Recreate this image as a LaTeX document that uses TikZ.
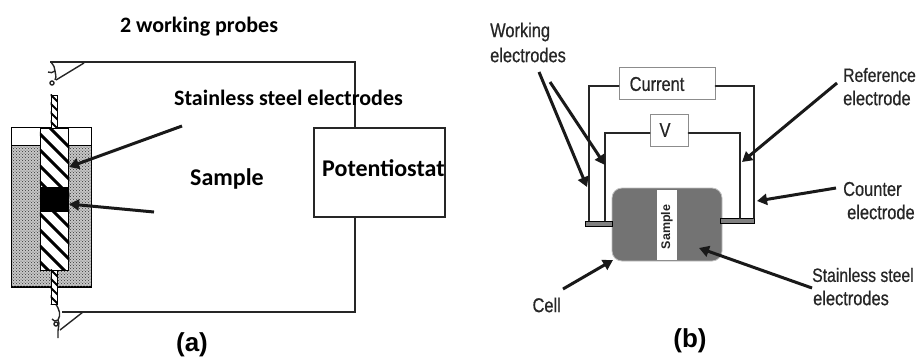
\documentclass[tikz,border=0pt]{standalone}
\usepackage{fontspec}
\setmainfont{Liberation Sans}
\newfontfamily\carl{Carlito}
\newfontfamily\narrow[FakeStretch=0.82,FakeBold=0.6]{Liberation Sans}
\usetikzlibrary{arrows.meta,patterns}
\tikzset{
  wire/.style={line width=2pt,draw=black!85,line cap=round},
  thinw/.style={line width=1.4pt,draw=black!85},
  ptr/.style={line width=3pt,draw=black!90,-{Triangle[length=10pt,width=11pt]}},
  lab/.style={font=\narrow\fontsize{20}{22}\selectfont,text=black!85,inner sep=0pt,align=left},
  labfit/.style={font=\narrow\fontsize{19.2}{22}\selectfont,text=black!85,inner sep=0pt,align=left},
  cal/.style={font=\carl\bfseries\fontsize{22}{24}\selectfont,text=black,inner sep=0pt},
  cal2/.style={font=\carl\bfseries\fontsize{24}{27}\selectfont,text=black,inner sep=0pt},
  captext/.style={font=\bfseries\fontsize{26}{28}\selectfont,text=black,inner sep=0pt},
  gbox/.style={draw=black!45,line width=1pt,fill=white,inner sep=0pt},
  hatchline/.style={line width=3pt,draw=black}
}
\begin{document}
\begin{tikzpicture}[x=1pt,y=-1pt]
\useasboundingbox (0,0) rectangle (917,357);
% ---------- (a) ----------
\coordinate (tl) at (50,62); \coordinate (tr) at (355,62);
\coordinate (bl) at (62,312); \coordinate (br) at (355,312);
\node[draw=black!85,line width=1.4pt,fill=white,minimum width=131pt,minimum height=89pt,inner sep=0pt] (pot) at (379.5,172.5) {};
\draw[line width=1.7pt,black!85] (tl) -- (tr) -- (pot.north -| tr);
\draw[line width=1.7pt,black!85] (pot.south -| br) -- (br) -- (bl);
% switch top
\coordinate (st) at (84,63); \coordinate (sp) at (56,80);
\draw[thinw] (st) -- (sp);
\draw[thinw] (51,62) .. controls (54,66) and (55,68) .. (55,71) .. controls (53,73) and (50,73) .. (48,72);
\draw[thinw] (55,71) .. controls (55,74) and (57,76) .. (55,80);
\draw[thinw] (52,83) circle (2);
% switch bottom
\coordinate (sb) at (83,312); \coordinate (sq) at (60,330);
\draw[thinw] (sb) -- (sq);
\draw[thinw] (55,303) .. controls (60,310) and (61,315) .. (58,320) .. controls (56,322) and (53,321) .. (52,319);
\draw[thinw] (58,320) .. controls (60,324) and (58,328) .. (58,331) -- (58,338);
\draw[thinw] (56,324) circle (2);
% body
\node[draw=black,line width=1.2pt,fill=black!22,minimum width=80pt,minimum height=142pt,inner sep=0pt] (body) at (51.5,216) {};
\node[pattern=crosshatch dots,pattern color=black!80,minimum width=79pt,minimum height=141pt,inner sep=0pt] at (body) {};
\node[draw=black,line width=1pt,fill=white,minimum width=80pt,minimum height=18pt,inner sep=0pt] (lid) at (51.5,136) {};
% electrode
\node[draw=black,line width=1pt,fill=white,minimum width=28.5pt,minimum height=142pt,inner sep=0pt] (elec) at (54.5,199) {};
\begin{scope}
\clip (elec.south west) rectangle (elec.north east);
\foreach \i in {0,...,13} \draw[hatchline] (30,108+\i*16) -- (80,158+\i*16);
\end{scope}
\node[draw=black,line width=1pt,minimum width=28.5pt,minimum height=142pt,inner sep=0pt] at (elec) {};
% thin strips
\node[draw=black,line width=1pt,fill=white,minimum width=6pt,minimum height=33pt,inner sep=0pt] (s1) at (54,111.5) {};
\node[draw=black,line width=1pt,fill=white,minimum width=6pt,minimum height=34pt,inner sep=0pt] (s2) at (54,287) {};
\begin{scope}
\clip (s1.south west) rectangle (s1.north east);
\foreach \i in {0,...,4} \draw[line width=2pt] (48,92+\i*9) -- (60,104+\i*9);
\end{scope}
\begin{scope}
\clip (s2.south west) rectangle (s2.north east);
\foreach \i in {0,...,4} \draw[line width=2pt] (48,267+\i*9) -- (60,279+\i*9);
\end{scope}
% sample
\node[fill=black,minimum width=28.5pt,minimum height=25pt,inner sep=0pt] (samp) at (54.5,199.5) {};
\coordinate (a1) at (182,126); \coordinate (a1e) at (69,167);
\coordinate (a2) at (154,212); \coordinate (a2e) at (69,204);
\draw[ptr] (a1) -- (a1e);
\draw[ptr] (a2) -- (a2e);
\node[cal] (t1) at (199,27) {2 working probes};
\node[cal] (t2) at (288.5,98) {Stainless steel electrodes};
\node[cal2] (t3) at (227,179) {Sample};
\node[cal2,anchor=west] (t4) at (322,168) {Potentiostat};
\node[captext] (capa) at (192,345) {(a)};
% ---------- (b) ----------
\node[gbox,minimum width=96pt,minimum height=32pt] (cur) at (667,83) {};
\node[lab] at (657,84) {Current};
\node[gbox,minimum width=38pt,minimum height=32pt] (volt) at (669,130) {};
\node[lab] at (665,130) {V};
\node[draw=black!25,line width=.8pt,fill=black!55,rounded corners=10pt,minimum width=110pt,minimum height=73pt,inner sep=0pt] (cell) at (667,224.5) {};
\node[fill=white,minimum width=20pt,minimum height=70pt,inner sep=0pt] (sp2) at (667,224.5) {};
\node[font=\bfseries\fontsize{12.5}{14}\selectfont,rotate=90,inner sep=0pt,text=black!85] at (667,227) {Sample};
\node[draw=black,line width=1pt,fill=black!50,minimum width=27pt,minimum height=5pt,inner sep=0pt] (tabl) at (598.5,223.5) {};
\node[draw=black,line width=1pt,fill=black!50,minimum width=34pt,minimum height=5pt,inner sep=0pt] (tabr) at (737,221) {};
\coordinate (c1) at (589,86); \coordinate (c2) at (754,86);
\coordinate (v1) at (605,133); \coordinate (v2) at (740,133);
\draw[wire] (cur.west |- c1) -- (c1) -- (c1 |- tabl.north);
\draw[wire] (cur.east |- c2) -- (c2) -- (c2 |- tabr.north);
\draw[wire] (volt.west |- v1) -- (v1) -- (v1 |- tabl.north);
\draw[wire] (volt.east |- v2) -- (v2) -- (v2 |- tabr.north);
\coordinate (w1) at (539,72); \coordinate (w1e) at (587,187);
\coordinate (w2) at (550,82); \coordinate (w2e) at (605,165);
\coordinate (r1) at (837,83); \coordinate (r1e) at (742,162);
\coordinate (k1) at (836,188); \coordinate (k1e) at (757,201);
\coordinate (e1) at (563,289); \coordinate (e1e) at (613,260);
\coordinate (f1) at (812,288); \coordinate (f1e) at (699,248);
\draw[ptr] (w1) -- (w1e);
\draw[ptr] (w2) -- (w2e);
\draw[ptr] (r1) -- (r1e);
\draw[ptr] (k1) -- (k1e);
\draw[ptr] (e1) -- (e1e);
\draw[ptr] (f1) -- (f1e);
\node[lab,anchor=west] (l1) at (490,32) {Working};
\node[lab,anchor=west] (l2) at (490,55) {electrodes};
\node[labfit,anchor=west] (l3) at (843,75) {Reference};
\node[lab,anchor=west] (l4) at (843,98) {electrode};
\node[lab,anchor=west] (l5) at (843,189) {Counter};
\node[lab,anchor=west] (l6) at (847,212) {electrode};
\node[labfit,anchor=west] (l7) at (812,275) {Stainless steel};
\node[lab,anchor=west] (l8) at (813,298) {electrodes};
\node[lab,anchor=east] (l9) at (561,305) {Cell};
\node[captext] (capb) at (690,341) {(b)};
\end{tikzpicture}
\end{document}
